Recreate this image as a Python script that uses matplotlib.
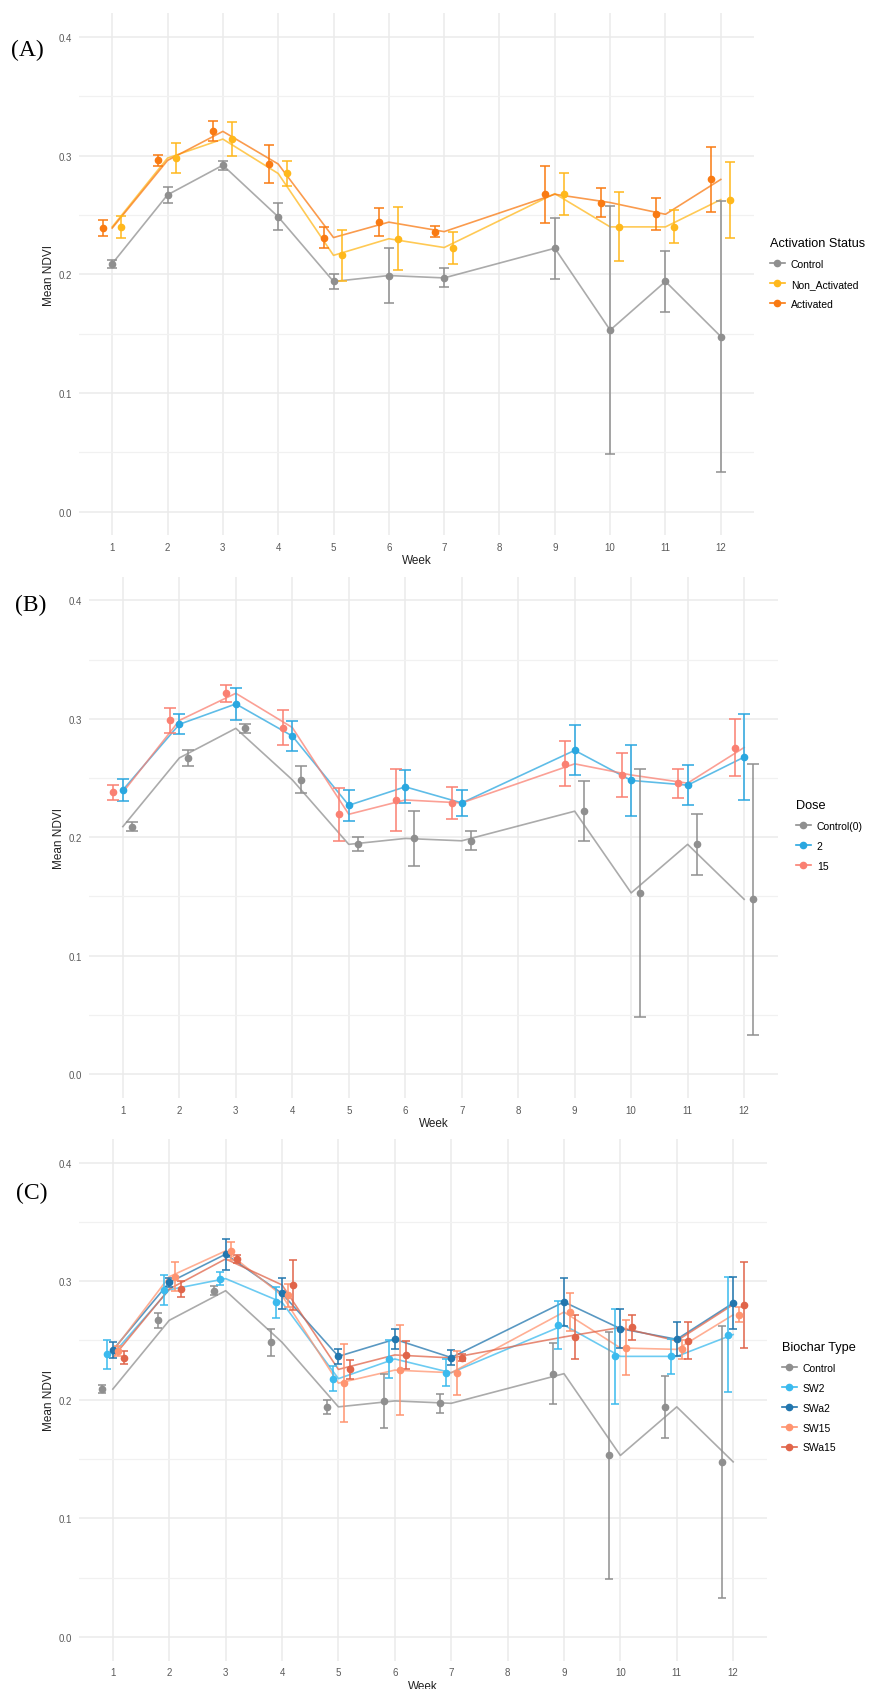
import numpy as np
import matplotlib
matplotlib.use('Agg')
import matplotlib.pyplot as plt
from matplotlib.lines import Line2D

weeks = [1, 2, 3, 4, 5, 6, 7, 9, 10, 11, 12]
week_ticks = list(range(1, 13))

# Control (shared by all panels)
control_mean = [0.209, 0.267, 0.292, 0.2485, 0.194, 0.199, 0.197, 0.222, 0.153, 0.194, 0.1476]
control_se = [0.0035, 0.0065, 0.0037, 0.0115, 0.006, 0.023, 0.008, 0.0255, 0.1045, 0.026, 0.1145]

# (A) activation status
nonact_mean = [0.240, 0.298, 0.314, 0.285, 0.216, 0.230, 0.2226, 0.268, 0.240, 0.240, 0.263]
nonact_se = [0.009, 0.013, 0.014, 0.0105, 0.0215, 0.0265, 0.0135, 0.0178, 0.029, 0.014, 0.032]
act_mean = [0.239, 0.296, 0.3205, 0.293, 0.231, 0.244, 0.236, 0.2675, 0.2605, 0.2506, 0.280]
act_se = [0.0065, 0.005, 0.0085, 0.0163, 0.009, 0.0115, 0.0045, 0.024, 0.0125, 0.0135, 0.0275]

# (B) dose
dose2_mean = [0.240, 0.2954, 0.3126, 0.2855, 0.227, 0.2426, 0.229, 0.2734, 0.248, 0.244, 0.2677]
dose2_se = [0.009, 0.0085, 0.0135, 0.0125, 0.013, 0.014, 0.011, 0.021, 0.030, 0.017, 0.0365]
dose15_mean = [0.238, 0.2987, 0.3216, 0.2927, 0.2194, 0.2315, 0.229, 0.262, 0.2526, 0.2457, 0.2758]
dose15_se = [0.0065, 0.0105, 0.007, 0.0147, 0.0225, 0.026, 0.0138, 0.019, 0.0185, 0.0123, 0.0238]

# (C) biochar type
sw2_mean = [0.2384, 0.2928, 0.3022, 0.2822, 0.2178, 0.2344, 0.2228, 0.263, 0.2366, 0.2366, 0.255]
sw2_se = [0.0123, 0.0127, 0.0056, 0.0132, 0.0106, 0.0164, 0.0115, 0.0205, 0.0403, 0.015, 0.0485]
swa2_mean = [0.2419, 0.299, 0.3228, 0.2897, 0.2366, 0.251, 0.2356, 0.2825, 0.26, 0.251, 0.2816]
swa2_se = [0.0069, 0.004, 0.013, 0.0131, 0.0066, 0.0085, 0.0066, 0.0205, 0.0165, 0.0142, 0.0222]
sw15_mean = [0.241, 0.3038, 0.3256, 0.288, 0.214, 0.225, 0.2228, 0.274, 0.2437, 0.2425, 0.2716]
sw15_se = [0.004, 0.0122, 0.0078, 0.0094, 0.0328, 0.0382, 0.0187, 0.016, 0.0232, 0.008, 0.0063]
swa15_mean = [0.2356, 0.2934, 0.3188, 0.2969, 0.2256, 0.2378, 0.2353, 0.253, 0.261, 0.2497, 0.2803]
swa15_se = [0.0055, 0.0069, 0.0036, 0.021, 0.0081, 0.0119, 0.003, 0.0185, 0.0105, 0.0155, 0.0363]

GRAY = '#8f8f8f'
NARROW = ['Liberation Sans Narrow', 'Liberation Sans', 'DejaVu Sans']
SANS = ['Liberation Sans', 'DejaVu Sans']

panels = [
    dict(tag='(A)', title='Activation Status',
         rect=(79, 14.3, 754, 536.4), leg=(770, 238), cap=3.6,
         groups=[('Control', control_mean, control_se, GRAY, 0.0),
                 ('Non_Activated', nonact_mean, nonact_se, '#FFB81C', 0.16),
                 ('Activated', act_mean, act_se, '#F97A12', -0.17)],
         tagpos=(27, 50)),
    dict(tag='(B)', title='Dose',
         rect=(89, 577.8, 778, 1098.7), leg=(796, 800), cap=4.0,
         groups=[('Control(0)', control_mean, control_se, GRAY, 0.16),
                 ('2', dose2_mean, dose2_se, '#2AA7E0', 0.0),
                 ('15', dose15_mean, dose15_se, '#FA8072', -0.17)],
         tagpos=(31, 605)),
    dict(tag='(C)', title='Biochar Type',
         rect=(79, 1140, 767, 1661.5), leg=(782, 1342), cap=2.6,
         groups=[('Control', control_mean, control_se, GRAY, -0.2),
                 ('SW2', sw2_mean, sw2_se, '#3BBAEE', -0.1),
                 ('SWa2', swa2_mean, swa2_se, '#2276AE', 0.0),
                 ('SW15', sw15_mean, sw15_se, '#FF9470', 0.1),
                 ('SWa15', swa15_mean, swa15_se, '#E0654A', 0.2)],
         tagpos=(32, 1193)),
]

W, H = 871, 1690
fig = plt.figure(figsize=(W / 100, H / 100), dpi=100)

for p in panels:
    l, t, r, b = p['rect']
    ax = fig.add_axes([l / W, 1 - b / H, (r - l) / W, (b - t) / H])
    ax.set_xlim(0.4, 12.6)
    ax.set_ylim(-0.02, 0.42)
    for s in ax.spines.values():
        s.set_visible(False)
    ax.set_xticks(week_ticks)
    ax.set_yticks([0.0, 0.1, 0.2, 0.3, 0.4])
    ax.set_yticks([0.05, 0.15, 0.25, 0.35], minor=True)
    ax.set_yticklabels(['0.0', '0.1', '0.2', '0.3', '0.4'])
    ax.grid(True, which='major', color='#ebebeb', lw=1.1)
    ax.grid(True, which='minor', axis='y', color='#f1f1f1', lw=0.9)
    ax.set_axisbelow(True)
    ax.tick_params(which='both', length=0, labelsize=7, labelcolor='#5a5a5a', pad=5)
    for lab in ax.get_xticklabels() + ax.get_yticklabels():
        lab.set_family(NARROW)
    ax.set_xlabel('Week', fontsize=8.5, family=SANS, color='#222222', labelpad=1.5)
    ax.set_ylabel('Mean NDVI', fontsize=8.5, family=SANS, color='#222222', labelpad=3)

    handles = []
    for name, mean, se, col, off in p['groups']:
        x = np.array(weeks, dtype=float)
        ax.plot(x, mean, color=col, lw=1.2, alpha=0.75, zorder=2)
        ax.errorbar(x + off, mean, yerr=se, fmt='o', color=col, ms=4.5,
                    elinewidth=1.1, capsize=p['cap'], capthick=1.1, zorder=3)
        handles.append(Line2D([0], [0], color=col, lw=1.2, marker='o', ms=4.5, label=name))

    fig.legend(handles=handles, title=p['title'], loc='upper left',
               bbox_to_anchor=(p['leg'][0] / W, 1 - p['leg'][1] / H),
               frameon=False, alignment='left', handlelength=1.4, handletextpad=0.6,
               labelspacing=0.95, borderpad=0, borderaxespad=0,
               prop={'family': NARROW, 'size': 7.5},
               title_fontproperties={'family': NARROW, 'size': 9.2})

    fig.text(p['tagpos'][0] / W, 1 - p['tagpos'][1] / H, p['tag'], ha='center', va='center',
             fontsize=17, family=['Liberation Serif', 'DejaVu Serif'])

fig.savefig('out.png', dpi=100)
